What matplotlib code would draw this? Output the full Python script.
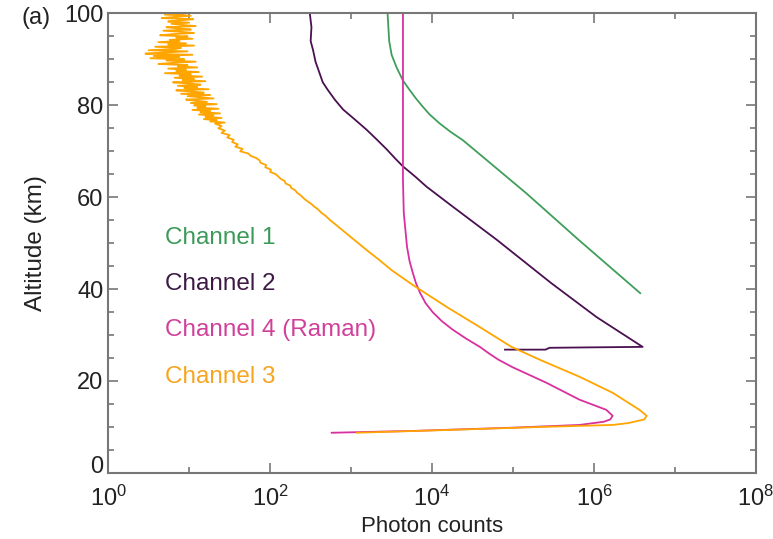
import numpy as np
import matplotlib
matplotlib.use("Agg")
import matplotlib.pyplot as plt
from matplotlib.transforms import ScaledTranslation
from matplotlib.ticker import (FixedLocator, MultipleLocator, NullFormatter,
                               LogFormatterSciNotation)

plt.rcParams['font.family'] = ['Liberation Sans', 'DejaVu Sans']
plt.rcParams['mathtext.default'] = 'regular'

# altitude (km) and log10 photon counts for each channel
ch1_alt = [100, 97, 94, 91, 88.3, 85.4, 83.4, 81.5, 80, 78, 76.1, 74.2, 72.4, 70.2,
           60.9, 50.7, 39.1]
ch1_log = [3.45, 3.46, 3.47, 3.50, 3.56, 3.64, 3.72, 3.80, 3.87, 3.97, 4.09, 4.23, 4.38, 4.53,
           5.16, 5.81, 6.57]

ch2_alt = [100, 97, 94, 92, 89.5, 87, 85, 83.4, 81.2, 79.1, 77, 74.7, 72.5, 70.4,
           68.5, 66.7, 64.5, 62.3, 58.4, 50.7, 41.3, 33.9, 27.4,
           27.3, 27.2, 26.8, 26.8]
ch2_log = [2.49, 2.51, 2.50, 2.53, 2.56, 2.61, 2.65, 2.71, 2.80, 2.90, 3.04, 3.19, 3.32, 3.44,
           3.54, 3.64, 3.79, 3.93, 4.22, 4.80, 5.47, 6.03, 6.60,
           6.00, 5.45, 5.40, 4.90]

ch4_alt = [100, 81, 63.8, 56.6, 49.2, 46.2, 43.6, 41.3, 39.2, 36.9, 34.9, 33.0, 31.2,
           29.2, 27.4, 26.0, 24.6, 23.0, 19.6, 15.9, 13.7, 12.4, 11.6, 11.1, 10.4,
           9.8, 9.1, 8.7]
ch4_log = [3.64, 3.64, 3.64, 3.65, 3.69, 3.72, 3.76, 3.80, 3.85, 3.92, 4.01, 4.12, 4.25,
           4.42, 4.59, 4.70, 4.82, 4.99, 5.41, 5.82, 6.15, 6.23, 6.20, 6.12, 5.82,
           4.99, 3.76, 2.76]

# channel 3: noisy above ~76 km (0.25 km steps), then 0.5 km steps, then the lower profile
ch3_alt = list(np.arange(100, 76.1, -0.25)) + list(np.arange(76, 54.9, -0.5)) + [
    54.3, 51.4, 48.5, 46.3, 44.1, 40.9, 36.1, 31.7, 27.4, 24.6, 20.9, 17.4, 13.7,
    12.4, 11.6, 10.8, 10.4, 10.0, 9.3, 8.7]
ch3_log = [
    0.95, 0.70, 1.02, 0.82, 0.66, 1.05, 0.88, 0.74,
    1.00, 0.78, 0.92, 1.08, 0.72, 0.86, 1.02, 0.68,
    0.90, 1.06, 0.80, 0.64, 0.98, 0.84, 1.04, 0.76,
    0.88, 0.62, 0.96, 0.74, 1.06, 0.58, 0.90, 0.82,
    0.50, 0.98, 0.68, 0.46, 1.04, 0.56, 0.88, 0.52,
    0.94, 0.72, 1.08, 0.80, 0.62, 0.98, 0.86, 1.10,
    0.74, 0.96, 0.84, 1.12, 0.70, 1.02, 0.88, 1.16,
    0.82, 1.06, 0.92, 1.20, 0.80, 1.00, 1.14, 0.86,
    1.10, 0.94, 1.24, 0.84, 1.04, 1.18, 0.90, 1.26,
    0.98, 1.14, 1.30, 0.96, 1.08, 1.22, 1.02, 1.34,
    1.06, 1.20, 1.10, 1.36, 1.04, 1.26, 1.14, 1.38,
    1.12, 1.30, 1.20, 1.40, 1.18, 1.34, 1.26, 1.44,
    1.32, 1.40, 1.36, 1.44, 1.40, 1.50, 1.47, 1.55, 1.53, 1.60, 1.57,
    1.66, 1.63, 1.73, 1.76, 1.83, 1.87, 1.88, 1.95, 1.94, 2.01, 2.00,
    2.07, 2.10, 2.13, 2.18, 2.19, 2.25, 2.26, 2.31, 2.33, 2.37, 2.40,
    2.43, 2.47, 2.51, 2.54, 2.58, 2.61, 2.64, 2.68, 2.71, 2.74,
    2.79, 2.99, 3.19, 3.35, 3.50, 3.76, 4.18, 4.59, 4.98, 5.33, 5.82, 6.23, 6.56,
    6.65, 6.62, 6.42, 6.23, 5.41, 4.18, 3.07]

labels = ["Channel 1", "Channel 2", "Channel 4 (Raman)", "Channel 3"]
colors = ["#3f9e5a", "#4a1050", "#d8309f", "#ffa500"]
text_colors = ["#3c9a58", "#3d1a45", "#d0409a", "#f7a520"]

fig = plt.figure(figsize=(7.73, 5.39), dpi=100)
ax = fig.add_axes([0.140, 0.123, 0.838, 0.852])

series = [(ch1_log, ch1_alt), (ch2_log, ch2_alt), (ch4_log, ch4_alt), (ch3_log, ch3_alt)]
for (lg, alt), c in zip(series, colors):
    ax.plot(10 ** np.array(lg), alt, color=c, lw=1.3)

ax.set_xscale('log')
ax.set_xlim(1, 1e8)
ax.set_ylim(0, 100)
ax.xaxis.set_major_locator(FixedLocator([1e0, 1e2, 1e4, 1e6, 1e8]))
ax.xaxis.set_minor_locator(FixedLocator([1e1, 1e3, 1e5, 1e7]))
ax.xaxis.set_major_formatter(LogFormatterSciNotation())
ax.xaxis.set_minor_formatter(NullFormatter())
ax.yaxis.set_major_locator(FixedLocator([0, 20, 40, 60, 80, 100]))
ax.yaxis.set_minor_locator(MultipleLocator(5))

ax.tick_params(which='both', direction='in', top=True, right=True, color='#777777',
               labelsize=17, labelcolor='#222222')
ax.tick_params(which='major', length=7, width=1.2)
ax.tick_params(which='minor', length=4, width=1.2)
ax.tick_params(axis='x', pad=9)
for s in ax.spines.values():
    s.set_color('#777777')
    s.set_linewidth(1.5)

# lift the "0" label a little so it clears the 10^0 label below
zero_lab = ax.yaxis.get_major_ticks()[0].label1
zero_lab.set_transform(zero_lab.get_transform() +
                       ScaledTranslation(0, 6 / 72, fig.dpi_scale_trans))

ax.set_xlabel('Photon counts', fontsize=16, color='#222222', labelpad=4)
ax.set_ylabel('Altitude (km)', fontsize=17.5, color='#222222', labelpad=12)

for i, (lab, tc) in enumerate(zip(labels, text_colors)):
    ax.text(10 ** 0.70, 51.2 - i * 10.1, lab, color=tc, fontsize=17.5, va='center', ha='left')

fig.text(0.028, 0.966, '(a)', fontsize=17, color='#222222', va='center', ha='left')

fig.savefig('out.png', dpi=100)
